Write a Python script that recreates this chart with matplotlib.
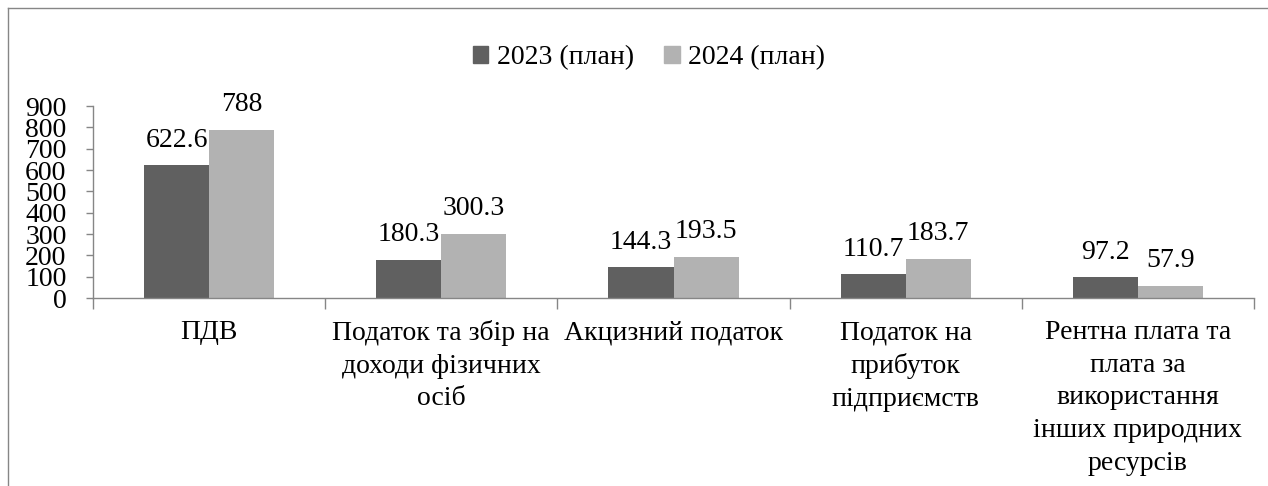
import numpy as np
import matplotlib.pyplot as plt
from matplotlib import font_manager
from matplotlib.lines import Line2D
from matplotlib.patches import Patch

installed = {f.name for f in font_manager.fontManager.ttflist}
serif = [n for n in ["Liberation Serif", "Times New Roman", "Tinos", "Noto Serif", "DejaVu Serif"] if n in installed]
plt.rcParams['font.family'] = serif + ['DejaVu Sans']

categories = ["ПДВ",
              "Податок та збір на\nдоходи фізичних\nосіб",
              "Акцизний податок",
              "Податок на\nприбуток\nпідприємств",
              "Рентна плата та\nплата за\nвикористання\nінших природних\nресурсів"]
plan_2023 = [622.6, 180.3, 144.3, 110.7, 97.2]
plan_2024 = [788, 300.3, 193.5, 183.7, 57.9]
series_names = ["2023 (план)", "2024 (план)"]
label_2023 = ["622.6", "180.3", "144.3", "110.7", "97.2"]
label_2024 = ["788", "300.3", "193.5", "183.7", "57.9"]

c_dark = "#606060"
c_light = "#b2b2b2"
c_axis = "#868686"
fs = 20

W, H = 1268, 486
fig = plt.figure(figsize=(W / 100, H / 100), dpi=100)
ax = fig.add_axes([93 / W, 1 - 298 / H, (1254 - 93) / W, (298 - 106) / H])

x = np.arange(len(categories)) + 0.5
bw = 0.28
b1 = ax.bar(x - bw / 2, plan_2023, bw, color=c_dark)
b2 = ax.bar(x + bw / 2, plan_2024, bw, color=c_light)

for bars, labels in ((b1, label_2023), (b2, label_2024)):
    for rect, lab in zip(bars, labels):
        ax.annotate(lab, (rect.get_x() + rect.get_width() / 2, rect.get_height()),
                    xytext=(0, 9), textcoords="offset points",
                    ha="center", va="bottom", fontsize=fs)

ax.set_xlim(0, len(categories))
ax.set_ylim(0, 900)
ax.set_yticks(np.arange(0, 901, 100))
ax.set_xticks(x)
ax.set_xticklabels(categories, fontsize=fs, linespacing=1.4, va="top")
ax.set_xticks(np.arange(0, len(categories) + 1), minor=True)
ax.tick_params(axis="x", which="major", length=0, pad=16)
ax.tick_params(axis="x", which="minor", length=8, color=c_axis, width=1)
ax.tick_params(axis="y", length=5, color=c_axis, width=1, pad=14, labelsize=fs)

for s in ("top", "right"):
    ax.spines[s].set_visible(False)
for s in ("left", "bottom"):
    ax.spines[s].set_color(c_axis)
    ax.spines[s].set_linewidth(1)

handles = [Patch(color=c_dark), Patch(color=c_light)]
fig.legend(handles, series_names, loc="center", bbox_to_anchor=(649 / W, 1 - 58 / H),
           ncol=2, frameon=False, fontsize=fs, handlelength=0.55, handleheight=0.55,
           handletextpad=0.3, columnspacing=1.1)

fig.add_artist(Line2D([8 / W, 8 / W], [0, 1 - 8 / H], color=c_axis, lw=1, transform=fig.transFigure))
fig.add_artist(Line2D([8 / W, 1], [1 - 8 / H, 1 - 8 / H], color=c_axis, lw=1, transform=fig.transFigure))

fig.savefig("out.png", dpi=100)
